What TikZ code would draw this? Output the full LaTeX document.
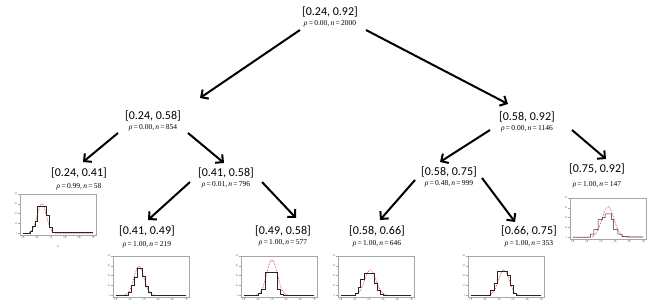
\documentclass[tikz,border=0pt]{standalone}
\usepackage{fontspec}
\setmainfont{Carlito}
\newfontfamily\statfont{Liberation Serif}
\usetikzlibrary{arrows.meta,positioning}

\tikzset{
  interval/.style={inner sep=0pt, font=\fontsize{12}{14}\selectfont},
  stats/.style={inner sep=0pt, font=\statfont\fontsize{7.5}{8}\selectfont},
  split/.style={line width=2pt, -{Straight Barb[length=5.5pt,width=11pt]}},
  frame/.style={gray!70, line width=0.4pt},
  ticklab/.style={inner sep=0.5pt, font=\fontsize{2.5}{3}\selectfont, text=gray!80!black},
  steps/.style={black!85, line width=0.5pt},
  density/.style={red, densely dotted, line width=0.6pt}
}

\newcommand{\rholine}[2]{\textit{ρ}\,=\,#1,\,\textit{n}\,=\,#2}

% #1 origin, #2 mean, #3 sd, #4 peak, #5 step path
\newcommand{\miniplot}[5]{%
  \begin{scope}[shift={#1}, x=70.4pt, y=39.4pt]
    \draw[frame] (-0.04,-0.04) rectangle (1.04,1);
    \foreach \t/\l in {0/0.0,0.2/0.2,0.4/0.4,0.6/0.6,0.8/0.8,1/1.0}
      \draw[frame] (\t,-0.04) -- (\t,-0.08) node[ticklab,below] {\l};
    \foreach \v/\l in {0/0,0.25/10,0.5/20,0.75/30,1/40}
      \draw[frame] (-0.04,\v) -- (-0.07,\v) node[ticklab,left] {\l};
    \draw[density] plot[domain=0:1, samples=70, smooth]
      (\x, {#4*exp(-((\x-#2)*(\x-#2))/(2*#3*#3))});
    \draw[steps] #5;
  \end{scope}}

\begin{document}
\begin{tikzpicture}[x=1pt, y=-1pt]
  \useasboundingbox (0,0) rectangle (662,307);

  %% intervals of the tree
  \node[interval] (n0)   at (330,12)  {[0.24, 0.92]};
  \node[interval] (nL)   at (153,116) {[0.24, 0.58]};
  \node[interval] (nR)   at (527,117) {[0.58, 0.92]};
  \node[interval] (nLL)  at (79,173)  {[0.24, 0.41]};
  \node[interval] (nLR)  at (226,173) {[0.41, 0.58]};
  \node[interval] (nRL)  at (449,172) {[0.58, 0.75]};
  \node[interval] (nRR)  at (597,169) {[0.75, 0.92]};
  \node[interval] (nLRL) at (147,231) {[0.41, 0.49]};
  \node[interval] (nLRR) at (283,231) {[0.49, 0.58]};
  \node[interval] (nRLL) at (377,231) {[0.58, 0.66]};
  \node[interval] (nRLR) at (529,231) {[0.66, 0.75]};

  %% statistics below each interval
  \node[stats, below=3pt of n0]   (s0)   {\rholine{0.00}{2000}};
  \node[stats, below=3pt of nL]   (sL)   {\rholine{0.00}{854}};
  \node[stats, below=3pt of nR]   (sR)   {\rholine{0.00}{1146}};
  \node[stats, below=5pt of nLL]  (sLL)  {\rholine{0.99}{58}};
  \node[stats, below=3pt of nLR]  (sLR)  {\rholine{0.01}{796}};
  \node[stats, below=3pt of nRL]  (sRL)  {\rholine{0.48}{999}};
  \node[stats, below=7pt of nRR]  (sRR)  {\rholine{1.00}{147}};
  \node[stats, below=5pt of nLRL] (sLRL) {\rholine{1.00}{219}};
  \node[stats, below=3pt of nLRR] (sLRR) {\rholine{1.00}{577}};
  \node[stats, below=4pt of nRLL] (sRLL) {\rholine{1.00}{646}};
  \node[stats, below=4pt of nRLR] (sRLR) {\rholine{1.00}{353}};

  %% splits
  \draw[split] ([shift={(-30,18)}]n0.center) -- ([shift={(47,-18)}]nL.center);
  \draw[split] ([shift={(36,18)}]n0.center) -- ([shift={(-19,-13)}]nR.center);
  \draw[split] ([shift={(-35,17)}]nL.center) -- ([shift={(4,-11)}]nLL.center);
  \draw[split] ([shift={(35,17)}]nL.center) -- ([shift={(-2,-10)}]nLR.center);
  \draw[split] ([shift={(-36,9)}]nLR.center) -- ([shift={(1,-11)}]nLRL.center);
  \draw[split] ([shift={(36,9)}]nLR.center) -- ([shift={(13,-13)}]nLRR.center);
  \draw[split] ([shift={(-37,13)}]nR.center) -- ([shift={(-9,-10)}]nRL.center);
  \draw[split] ([shift={(45,13)}]nR.center) -- ([shift={(9,-10)}]nRR.center);
  \draw[split] ([shift={(-34,8)}]nRL.center) -- ([shift={(3,-11)}]nRLL.center);
  \draw[split] ([shift={(33,6)}]nRL.center) -- ([shift={(-14,-9)}]nRLR.center);

  %% leaf histograms
  \miniplot{(22.8,233.4)}{0.27}{0.065}{0.75}
    {(0,0.01) -| (0.1,0.06) -| (0.14,0.18) -| (0.18,0.3) -| (0.2,0.7) -| (0.3,0.68) -| (0.34,0.45) -| (0.37,0.15) -| (0.42,0.02) -- (1,0.02)}
  \node[ticklab, font=\fontsize{3.5}{4}\selectfont] (xlab) at (58,247) {x};
  \miniplot{(115.8,295.4)}{0.33}{0.07}{0.75}
    {(0,0.01) -| (0.17,0.08) -| (0.22,0.25) -| (0.26,0.45) -| (0.3,0.7) -| (0.38,0.48) -| (0.42,0.22) -| (0.46,0.07) -| (0.5,0.01) -- (1,0.01)}
  \miniplot{(243.8,295.4)}{0.4}{0.075}{0.9}
    {(0,0.01) -| (0.2,0.05) -| (0.25,0.15) -| (0.3,0.6) -| (0.48,0.15) -| (0.52,0.03) -| (0.56,0.01) -- (1,0.01)}
  \miniplot{(340.8,295.4)}{0.42}{0.08}{0.65}
    {(0,0.01) -| (0.2,0.05) -| (0.25,0.2) -| (0.28,0.42) -| (0.33,0.55) -| (0.48,0.3) -| (0.52,0.12) -| (0.56,0.03) -| (0.6,0.01) -- (1,0.01)}
  \miniplot{(470.8,295.4)}{0.47}{0.075}{0.65}
    {(0,0.01) -| (0.28,0.12) -| (0.33,0.3) -| (0.37,0.62) -| (0.52,0.5) -| (0.56,0.25) -| (0.6,0.06) -| (0.65,0.01) -- (1,0.01)}
  \miniplot{(572.8,237.4)}{0.5}{0.085}{0.78}
    {(0,0.01) -| (0.25,0.08) -| (0.3,0.2) -| (0.36,0.45) -| (0.42,0.5) -| (0.46,0.6) -| (0.55,0.45) -| (0.58,0.2) -| (0.64,0.08) -| (0.7,0.02) -- (1,0.01)}
\end{tikzpicture}
\end{document}
